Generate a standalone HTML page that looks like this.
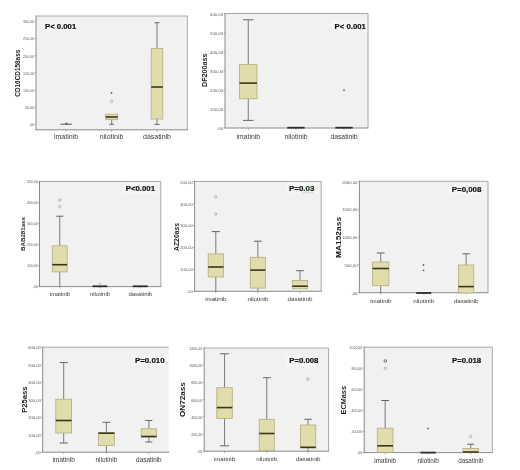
<!DOCTYPE html>
<html><head><meta charset="utf-8"><title>Boxplots</title>
<style>
html,body{margin:0;padding:0;background:#fff;}
body{width:520px;height:470px;overflow:hidden;font-family:"Liberation Sans", sans-serif;}
svg{display:block;filter:blur(0.4px);}
svg text{font-family:"Liberation Sans", sans-serif;}
</style></head>
<body>
<svg width="520" height="470" viewBox="0 0 520 470">
<rect width="520" height="470" fill="#fff"/>
<rect x="36" y="16" width="151.4" height="113.8" fill="#f1f1f1"/>
<line x1="36" y1="16" x2="187.4" y2="16" stroke="#a8a8a8" stroke-width="1"/>
<line x1="187.4" y1="16" x2="187.4" y2="129.8" stroke="#a8a8a8" stroke-width="1"/>
<line x1="36" y1="15.5" x2="36" y2="130.3" stroke="#8a8a8a" stroke-width="1"/>
<line x1="35.5" y1="129.8" x2="187.9" y2="129.8" stroke="#8a8a8a" stroke-width="1"/>
<line x1="34.5" y1="124.5" x2="36" y2="124.5" stroke="#8a8a8a" stroke-width="0.6"/>
<text x="34.1" y="126.4" font-size="3.6" text-anchor="end" fill="#5a5a5a">,00</text>
<line x1="34.5" y1="107.3" x2="36" y2="107.3" stroke="#8a8a8a" stroke-width="0.6"/>
<text x="34.1" y="109.2" font-size="3.6" text-anchor="end" fill="#5a5a5a">50,00</text>
<line x1="34.5" y1="90.1" x2="36" y2="90.1" stroke="#8a8a8a" stroke-width="0.6"/>
<text x="34.1" y="92" font-size="3.6" text-anchor="end" fill="#5a5a5a">100,00</text>
<line x1="34.5" y1="72.9" x2="36" y2="72.9" stroke="#8a8a8a" stroke-width="0.6"/>
<text x="34.1" y="74.8" font-size="3.6" text-anchor="end" fill="#5a5a5a">150,00</text>
<line x1="34.5" y1="55.7" x2="36" y2="55.7" stroke="#8a8a8a" stroke-width="0.6"/>
<text x="34.1" y="57.6" font-size="3.6" text-anchor="end" fill="#5a5a5a">200,00</text>
<line x1="34.5" y1="38.5" x2="36" y2="38.5" stroke="#8a8a8a" stroke-width="0.6"/>
<text x="34.1" y="40.4" font-size="3.6" text-anchor="end" fill="#5a5a5a">250,00</text>
<line x1="34.5" y1="21.3" x2="36" y2="21.3" stroke="#8a8a8a" stroke-width="0.6"/>
<text x="34.1" y="23.2" font-size="3.6" text-anchor="end" fill="#5a5a5a">300,00</text>
<line x1="66" y1="129.8" x2="66" y2="131.8" stroke="#8a8a8a" stroke-width="0.6"/>
<text x="66" y="139" font-size="7" text-anchor="middle" fill="#3a3a3a">imatinib</text>
<line x1="111.5" y1="129.8" x2="111.5" y2="131.8" stroke="#8a8a8a" stroke-width="0.6"/>
<text x="111.5" y="139" font-size="7" text-anchor="middle" fill="#3a3a3a">nilotinib</text>
<line x1="157" y1="129.8" x2="157" y2="131.8" stroke="#8a8a8a" stroke-width="0.6"/>
<text x="157" y="139" font-size="7" text-anchor="middle" fill="#3a3a3a">dasatinib</text>
<text transform="translate(20.45,73.2) rotate(-90)" font-size="6.8" font-weight="bold" text-anchor="middle" textLength="47" lengthAdjust="spacingAndGlyphs" fill="#1e1e1e">CD16CD158ass</text>
<rect x="42" y="20.6" width="37.2" height="11" fill="#f5f5f5"/>
<text x="45" y="29.1" font-size="8.0" font-weight="bold" textLength="31.2" lengthAdjust="spacingAndGlyphs" fill="#111" stroke="#111" stroke-width="0.2">P< 0.001</text>
<rect x="60.5" y="123.7" width="11.3" height="1.0" fill="#555"/>
<line x1="111.7" y1="119.7" x2="111.7" y2="124.3" stroke="#656565" stroke-width="0.85"/>
<line x1="109.3" y1="124.3" x2="114.1" y2="124.3" stroke="#656565" stroke-width="1"/>
<rect x="105.7" y="114.2" width="12" height="5.5" fill="#e0dcab" stroke="#b3ad7c" stroke-width="0.8"/>
<line x1="105.7" y1="117" x2="117.7" y2="117" stroke="#3b351d" stroke-width="1.6"/>
<line x1="157" y1="22.7" x2="157" y2="48.4" stroke="#656565" stroke-width="0.85"/>
<line x1="154.5" y1="22.7" x2="159.5" y2="22.7" stroke="#656565" stroke-width="1"/>
<line x1="157" y1="119" x2="157" y2="124.4" stroke="#656565" stroke-width="0.85"/>
<line x1="154.5" y1="124.4" x2="159.5" y2="124.4" stroke="#656565" stroke-width="1"/>
<rect x="151.2" y="48.4" width="11.6" height="70.6" fill="#e0dcab" stroke="#b3ad7c" stroke-width="0.8"/>
<line x1="151.2" y1="87" x2="162.8" y2="87" stroke="#3b351d" stroke-width="1.6"/>
<circle cx="111.5" cy="93" r="0.9" fill="#666"/>
<circle cx="111.5" cy="101.5" r="1.2" fill="none" stroke="#9a9a9a" stroke-width="0.7"/>
<path d="M65.10000000000001,124.2 L66.4,122.2 L67.7,124.2 Z" fill="#444"/>
<rect x="225" y="13.5" width="143" height="114.5" fill="#f1f1f1"/>
<line x1="225" y1="13.5" x2="368" y2="13.5" stroke="#a8a8a8" stroke-width="1"/>
<line x1="368" y1="13.5" x2="368" y2="128" stroke="#a8a8a8" stroke-width="1"/>
<line x1="225" y1="13.0" x2="225" y2="128.5" stroke="#8a8a8a" stroke-width="1"/>
<line x1="224.5" y1="128" x2="368.5" y2="128" stroke="#8a8a8a" stroke-width="1"/>
<line x1="223.5" y1="128" x2="225" y2="128" stroke="#8a8a8a" stroke-width="0.6"/>
<text x="223.1" y="130.13" font-size="4.25" text-anchor="end" fill="#5a5a5a">,00</text>
<line x1="223.5" y1="108.97" x2="225" y2="108.97" stroke="#8a8a8a" stroke-width="0.6"/>
<text x="223.1" y="111.1" font-size="4.25" text-anchor="end" fill="#5a5a5a">100,00</text>
<line x1="223.5" y1="89.94" x2="225" y2="89.94" stroke="#8a8a8a" stroke-width="0.6"/>
<text x="223.1" y="92.07" font-size="4.25" text-anchor="end" fill="#5a5a5a">200,00</text>
<line x1="223.5" y1="70.91" x2="225" y2="70.91" stroke="#8a8a8a" stroke-width="0.6"/>
<text x="223.1" y="73.04" font-size="4.25" text-anchor="end" fill="#5a5a5a">300,00</text>
<line x1="223.5" y1="51.88" x2="225" y2="51.88" stroke="#8a8a8a" stroke-width="0.6"/>
<text x="223.1" y="54.01" font-size="4.25" text-anchor="end" fill="#5a5a5a">400,00</text>
<line x1="223.5" y1="32.85" x2="225" y2="32.85" stroke="#8a8a8a" stroke-width="0.6"/>
<text x="223.1" y="34.98" font-size="4.25" text-anchor="end" fill="#5a5a5a">500,00</text>
<line x1="223.5" y1="13.82" x2="225" y2="13.82" stroke="#8a8a8a" stroke-width="0.6"/>
<text x="223.1" y="15.95" font-size="4.25" text-anchor="end" fill="#5a5a5a">600,00</text>
<line x1="248.3" y1="128" x2="248.3" y2="130" stroke="#8a8a8a" stroke-width="0.6"/>
<text x="248.3" y="138.5" font-size="6.8" text-anchor="middle" fill="#3a3a3a">imatinib</text>
<line x1="296" y1="128" x2="296" y2="130" stroke="#8a8a8a" stroke-width="0.6"/>
<text x="296" y="138.5" font-size="6.8" text-anchor="middle" fill="#3a3a3a">nilotinib</text>
<line x1="344" y1="128" x2="344" y2="130" stroke="#8a8a8a" stroke-width="0.6"/>
<text x="344" y="138.5" font-size="6.8" text-anchor="middle" fill="#3a3a3a">dasatinib</text>
<text transform="translate(207.1,70.25) rotate(-90)" font-size="6.4" font-weight="bold" text-anchor="middle" textLength="33.5" lengthAdjust="spacingAndGlyphs" fill="#1e1e1e">DF200ass</text>
<rect x="331.6" y="20.6" width="35.4" height="11" fill="#f5f5f5"/>
<text x="334.6" y="29.1" font-size="8.0" font-weight="bold" textLength="31.2" lengthAdjust="spacingAndGlyphs" fill="#111" stroke="#111" stroke-width="0.2">P< 0.001</text>
<line x1="248.25" y1="19.8" x2="248.25" y2="64.4" stroke="#656565" stroke-width="0.85"/>
<line x1="243" y1="19.8" x2="253.5" y2="19.8" stroke="#656565" stroke-width="1"/>
<line x1="248.25" y1="98.8" x2="248.25" y2="120.4" stroke="#656565" stroke-width="0.85"/>
<line x1="243" y1="120.4" x2="253.5" y2="120.4" stroke="#656565" stroke-width="1"/>
<rect x="239.5" y="64.4" width="17.5" height="34.4" fill="#e0dcab" stroke="#b3ad7c" stroke-width="0.8"/>
<line x1="239.5" y1="83.1" x2="257" y2="83.1" stroke="#3b351d" stroke-width="1.6"/>
<rect x="287.3" y="126.8" width="17.3" height="1.8" fill="#2e2e2e"/>
<rect x="335.4" y="126.8" width="17.3" height="1.8" fill="#2e2e2e"/>
<circle cx="344" cy="90.2" r="0.9" fill="#666"/>
<rect x="39.5" y="181.5" width="121.3" height="105.1" fill="#f1f1f1"/>
<line x1="39.5" y1="181.5" x2="160.8" y2="181.5" stroke="#a8a8a8" stroke-width="1"/>
<line x1="160.8" y1="181.5" x2="160.8" y2="286.6" stroke="#a8a8a8" stroke-width="1"/>
<line x1="39.5" y1="181.0" x2="39.5" y2="287.1" stroke="#8a8a8a" stroke-width="1"/>
<line x1="39.0" y1="286.6" x2="161.3" y2="286.6" stroke="#8a8a8a" stroke-width="1"/>
<line x1="38" y1="286.5" x2="39.5" y2="286.5" stroke="#8a8a8a" stroke-width="0.6"/>
<text x="37.6" y="288.36" font-size="3.5" text-anchor="end" fill="#5a5a5a">,00</text>
<line x1="38" y1="265.5" x2="39.5" y2="265.5" stroke="#8a8a8a" stroke-width="0.6"/>
<text x="37.6" y="267.36" font-size="3.5" text-anchor="end" fill="#5a5a5a">100,00</text>
<line x1="38" y1="244.5" x2="39.5" y2="244.5" stroke="#8a8a8a" stroke-width="0.6"/>
<text x="37.6" y="246.36" font-size="3.5" text-anchor="end" fill="#5a5a5a">200,00</text>
<line x1="38" y1="223.5" x2="39.5" y2="223.5" stroke="#8a8a8a" stroke-width="0.6"/>
<text x="37.6" y="225.36" font-size="3.5" text-anchor="end" fill="#5a5a5a">300,00</text>
<line x1="38" y1="202.5" x2="39.5" y2="202.5" stroke="#8a8a8a" stroke-width="0.6"/>
<text x="37.6" y="204.36" font-size="3.5" text-anchor="end" fill="#5a5a5a">400,00</text>
<line x1="38" y1="181.5" x2="39.5" y2="181.5" stroke="#8a8a8a" stroke-width="0.6"/>
<text x="37.6" y="183.36" font-size="3.5" text-anchor="end" fill="#5a5a5a">500,00</text>
<line x1="60" y1="286.6" x2="60" y2="288.6" stroke="#8a8a8a" stroke-width="0.6"/>
<text x="60" y="295.5" font-size="5.9" text-anchor="middle" fill="#3a3a3a">imatinib</text>
<line x1="100" y1="286.6" x2="100" y2="288.6" stroke="#8a8a8a" stroke-width="0.6"/>
<text x="100" y="295.5" font-size="5.9" text-anchor="middle" fill="#3a3a3a">nilotinib</text>
<line x1="140.3" y1="286.6" x2="140.3" y2="288.6" stroke="#8a8a8a" stroke-width="0.6"/>
<text x="140.3" y="295.5" font-size="5.9" text-anchor="middle" fill="#3a3a3a">dasatinib</text>
<text transform="translate(24.84,234) rotate(-90)" font-size="5.1" font-weight="bold" text-anchor="middle" textLength="34" lengthAdjust="spacingAndGlyphs" fill="#1e1e1e">BAB281ass</text>
<rect x="122.7" y="182.8" width="35.3" height="11" fill="#f5f5f5"/>
<text x="125.7" y="191.3" font-size="8.0" font-weight="bold" textLength="29.3" lengthAdjust="spacingAndGlyphs" fill="#111" stroke="#111" stroke-width="0.2">P<0.001</text>
<line x1="59.75" y1="216.2" x2="59.75" y2="245.8" stroke="#656565" stroke-width="0.85"/>
<line x1="56.1" y1="216.2" x2="63.4" y2="216.2" stroke="#656565" stroke-width="1"/>
<line x1="59.75" y1="271.9" x2="59.75" y2="286.5" stroke="#656565" stroke-width="0.85"/>
<rect x="52.3" y="245.8" width="14.9" height="26.1" fill="#e0dcab" stroke="#b3ad7c" stroke-width="0.8"/>
<line x1="52.3" y1="264.7" x2="67.2" y2="264.7" stroke="#3b351d" stroke-width="1.6"/>
<rect x="92.5" y="285.4" width="14.8" height="1.8" fill="#2e2e2e"/>
<rect x="132.8" y="285.4" width="15" height="1.8" fill="#2e2e2e"/>
<circle cx="59.7" cy="200" r="1.2" fill="none" stroke="#9a9a9a" stroke-width="0.7"/>
<circle cx="59.7" cy="206.5" r="1.2" fill="none" stroke="#9a9a9a" stroke-width="0.7"/>
<circle cx="100" cy="283.7" r="0.6" fill="#666"/>
<rect x="194.6" y="181.5" width="126.6" height="109.8" fill="#f1f1f1"/>
<line x1="194.6" y1="181.5" x2="321.2" y2="181.5" stroke="#a8a8a8" stroke-width="1"/>
<line x1="321.2" y1="181.5" x2="321.2" y2="291.3" stroke="#a8a8a8" stroke-width="1"/>
<line x1="194.6" y1="181.0" x2="194.6" y2="291.8" stroke="#8a8a8a" stroke-width="1"/>
<line x1="194.1" y1="291.3" x2="321.7" y2="291.3" stroke="#8a8a8a" stroke-width="1"/>
<line x1="193.1" y1="291.3" x2="194.6" y2="291.3" stroke="#8a8a8a" stroke-width="0.6"/>
<text x="192.7" y="293.36" font-size="4.05" text-anchor="end" fill="#5a5a5a">,00</text>
<line x1="193.1" y1="269.34" x2="194.6" y2="269.34" stroke="#8a8a8a" stroke-width="0.6"/>
<text x="192.7" y="271.4" font-size="4.05" text-anchor="end" fill="#5a5a5a">100,00</text>
<line x1="193.1" y1="247.38" x2="194.6" y2="247.38" stroke="#8a8a8a" stroke-width="0.6"/>
<text x="192.7" y="249.44" font-size="4.05" text-anchor="end" fill="#5a5a5a">200,00</text>
<line x1="193.1" y1="225.42" x2="194.6" y2="225.42" stroke="#8a8a8a" stroke-width="0.6"/>
<text x="192.7" y="227.48" font-size="4.05" text-anchor="end" fill="#5a5a5a">300,00</text>
<line x1="193.1" y1="203.46" x2="194.6" y2="203.46" stroke="#8a8a8a" stroke-width="0.6"/>
<text x="192.7" y="205.52" font-size="4.05" text-anchor="end" fill="#5a5a5a">400,00</text>
<line x1="193.1" y1="181.5" x2="194.6" y2="181.5" stroke="#8a8a8a" stroke-width="0.6"/>
<text x="192.7" y="183.56" font-size="4.05" text-anchor="end" fill="#5a5a5a">500,00</text>
<line x1="215.8" y1="291.3" x2="215.8" y2="293.3" stroke="#8a8a8a" stroke-width="0.6"/>
<text x="215.8" y="300.7" font-size="6.2" text-anchor="middle" fill="#3a3a3a">imatinib</text>
<line x1="257.9" y1="291.3" x2="257.9" y2="293.3" stroke="#8a8a8a" stroke-width="0.6"/>
<text x="257.9" y="300.7" font-size="6.2" text-anchor="middle" fill="#3a3a3a">nilotinib</text>
<line x1="300" y1="291.3" x2="300" y2="293.3" stroke="#8a8a8a" stroke-width="0.6"/>
<text x="300" y="300.7" font-size="6.2" text-anchor="middle" fill="#3a3a3a">dasatinib</text>
<text transform="translate(179.47,237) rotate(-90)" font-size="6.3" font-weight="bold" text-anchor="middle" textLength="27.8" lengthAdjust="spacingAndGlyphs" fill="#1e1e1e">AZ20ass</text>
<rect x="286" y="182.6" width="31.4" height="11" fill="#f5f5f5"/>
<path d="M302,192.7 q1.5,1 3,0 t3,0 t3,0 t3,0" fill="none" stroke="#7fbf85" stroke-width="0.6" opacity="0.7"/>
<text x="289" y="191.1" font-size="8.0" font-weight="bold" textLength="25.4" lengthAdjust="spacingAndGlyphs" fill="#111" stroke="#111" stroke-width="0.2">P=0<tspan fill="#1f3d22">.03</tspan></text>
<line x1="215.8" y1="231.6" x2="215.8" y2="253.9" stroke="#656565" stroke-width="0.85"/>
<line x1="211.7" y1="231.6" x2="219.9" y2="231.6" stroke="#656565" stroke-width="1"/>
<line x1="215.8" y1="277" x2="215.8" y2="291.2" stroke="#656565" stroke-width="0.85"/>
<rect x="208.2" y="253.9" width="15.2" height="23.1" fill="#e0dcab" stroke="#b3ad7c" stroke-width="0.8"/>
<line x1="208.2" y1="267" x2="223.4" y2="267" stroke="#3b351d" stroke-width="1.6"/>
<line x1="257.85" y1="241.2" x2="257.85" y2="257.3" stroke="#656565" stroke-width="0.85"/>
<line x1="254" y1="241.2" x2="261.7" y2="241.2" stroke="#656565" stroke-width="1"/>
<line x1="257.85" y1="288.1" x2="257.85" y2="291.2" stroke="#656565" stroke-width="0.85"/>
<rect x="250.3" y="257.3" width="15.1" height="30.8" fill="#e0dcab" stroke="#b3ad7c" stroke-width="0.8"/>
<line x1="250.3" y1="270.1" x2="265.4" y2="270.1" stroke="#3b351d" stroke-width="1.6"/>
<line x1="300" y1="270.7" x2="300" y2="280.4" stroke="#656565" stroke-width="0.85"/>
<line x1="296.1" y1="270.7" x2="303.9" y2="270.7" stroke="#656565" stroke-width="1"/>
<rect x="292.3" y="280.4" width="15.4" height="8.4" fill="#e0dcab" stroke="#b3ad7c" stroke-width="0.8"/>
<line x1="292.3" y1="286.2" x2="307.7" y2="286.2" stroke="#3b351d" stroke-width="1.6"/>
<circle cx="215.7" cy="196.8" r="1.2" fill="none" stroke="#9a9a9a" stroke-width="0.7"/>
<circle cx="215.7" cy="214.2" r="1.2" fill="none" stroke="#9a9a9a" stroke-width="0.7"/>
<rect x="359.4" y="181.3" width="128.6" height="111.4" fill="#f1f1f1"/>
<line x1="359.4" y1="181.3" x2="488" y2="181.3" stroke="#a8a8a8" stroke-width="1"/>
<line x1="488" y1="181.3" x2="488" y2="292.7" stroke="#a8a8a8" stroke-width="1"/>
<line x1="359.4" y1="180.8" x2="359.4" y2="293.2" stroke="#8a8a8a" stroke-width="1"/>
<line x1="358.9" y1="292.7" x2="488.5" y2="292.7" stroke="#8a8a8a" stroke-width="1"/>
<line x1="357.9" y1="292.7" x2="359.4" y2="292.7" stroke="#8a8a8a" stroke-width="0.6"/>
<text x="357.5" y="294.83" font-size="4.26" text-anchor="end" fill="#5a5a5a">,00</text>
<line x1="357.9" y1="264.9" x2="359.4" y2="264.9" stroke="#8a8a8a" stroke-width="0.6"/>
<text x="357.5" y="267.03" font-size="4.26" text-anchor="end" fill="#5a5a5a">500,00</text>
<line x1="357.9" y1="237.1" x2="359.4" y2="237.1" stroke="#8a8a8a" stroke-width="0.6"/>
<text x="357.5" y="239.23" font-size="4.26" text-anchor="end" fill="#5a5a5a">1000,00</text>
<line x1="357.9" y1="209.3" x2="359.4" y2="209.3" stroke="#8a8a8a" stroke-width="0.6"/>
<text x="357.5" y="211.43" font-size="4.26" text-anchor="end" fill="#5a5a5a">1500,00</text>
<line x1="357.9" y1="181.5" x2="359.4" y2="181.5" stroke="#8a8a8a" stroke-width="0.6"/>
<text x="357.5" y="183.63" font-size="4.26" text-anchor="end" fill="#5a5a5a">2000,00</text>
<line x1="380.8" y1="292.7" x2="380.8" y2="294.7" stroke="#8a8a8a" stroke-width="0.6"/>
<text x="380.8" y="302.9" font-size="6.2" text-anchor="middle" fill="#3a3a3a">imatinib</text>
<line x1="423.7" y1="292.7" x2="423.7" y2="294.7" stroke="#8a8a8a" stroke-width="0.6"/>
<text x="423.7" y="302.9" font-size="6.2" text-anchor="middle" fill="#3a3a3a">nilotinib</text>
<line x1="466.2" y1="292.7" x2="466.2" y2="294.7" stroke="#8a8a8a" stroke-width="0.6"/>
<text x="466.2" y="302.9" font-size="6.2" text-anchor="middle" fill="#3a3a3a">dasatinib</text>
<text transform="translate(340.98,237.5) rotate(-90)" font-size="6.6" font-weight="bold" text-anchor="middle" textLength="41.2" lengthAdjust="spacingAndGlyphs" fill="#1e1e1e">MA152ass</text>
<rect x="448.8" y="183" width="35.6" height="11" fill="#f5f5f5"/>
<text x="451.8" y="191.5" font-size="8.0" font-weight="bold" textLength="29.6" lengthAdjust="spacingAndGlyphs" fill="#111" stroke="#111" stroke-width="0.2">P=0,008</text>
<line x1="380.75" y1="253" x2="380.75" y2="262" stroke="#656565" stroke-width="0.85"/>
<line x1="376.85" y1="253" x2="384.65" y2="253" stroke="#656565" stroke-width="1"/>
<line x1="380.75" y1="285.7" x2="380.75" y2="293" stroke="#656565" stroke-width="0.85"/>
<rect x="372.6" y="262" width="16.3" height="23.7" fill="#e0dcab" stroke="#b3ad7c" stroke-width="0.8"/>
<line x1="372.6" y1="268.5" x2="388.9" y2="268.5" stroke="#3b351d" stroke-width="1.6"/>
<rect x="416.2" y="292.1" width="15" height="1.8" fill="#2e2e2e"/>
<line x1="466.15" y1="253.8" x2="466.15" y2="265" stroke="#656565" stroke-width="0.85"/>
<line x1="462.45" y1="253.8" x2="469.85" y2="253.8" stroke="#656565" stroke-width="1"/>
<rect x="458.5" y="265" width="15.3" height="28" fill="#e0dcab" stroke="#b3ad7c" stroke-width="0.8"/>
<line x1="458.5" y1="286.6" x2="473.8" y2="286.6" stroke="#3b351d" stroke-width="1.6"/>
<circle cx="423.5" cy="265" r="0.9" fill="#666"/>
<circle cx="423.5" cy="270.3" r="0.9" fill="#666"/>
<rect x="42.7" y="347.2" width="126" height="105" fill="#f1f1f1"/>
<line x1="42.7" y1="347.2" x2="168.7" y2="347.2" stroke="#a8a8a8" stroke-width="1"/>
<line x1="42.7" y1="346.7" x2="42.7" y2="452.7" stroke="#8a8a8a" stroke-width="1"/>
<line x1="42.2" y1="452.2" x2="169.2" y2="452.2" stroke="#8a8a8a" stroke-width="1"/>
<line x1="41.2" y1="452.2" x2="42.7" y2="452.2" stroke="#8a8a8a" stroke-width="0.6"/>
<text x="40.8" y="454.29" font-size="4.15" text-anchor="end" fill="#5a5a5a">,00</text>
<line x1="41.2" y1="434.7" x2="42.7" y2="434.7" stroke="#8a8a8a" stroke-width="0.6"/>
<text x="40.8" y="436.79" font-size="4.15" text-anchor="end" fill="#5a5a5a">100,00</text>
<line x1="41.2" y1="417.2" x2="42.7" y2="417.2" stroke="#8a8a8a" stroke-width="0.6"/>
<text x="40.8" y="419.29" font-size="4.15" text-anchor="end" fill="#5a5a5a">200,00</text>
<line x1="41.2" y1="399.7" x2="42.7" y2="399.7" stroke="#8a8a8a" stroke-width="0.6"/>
<text x="40.8" y="401.79" font-size="4.15" text-anchor="end" fill="#5a5a5a">300,00</text>
<line x1="41.2" y1="382.2" x2="42.7" y2="382.2" stroke="#8a8a8a" stroke-width="0.6"/>
<text x="40.8" y="384.29" font-size="4.15" text-anchor="end" fill="#5a5a5a">400,00</text>
<line x1="41.2" y1="364.7" x2="42.7" y2="364.7" stroke="#8a8a8a" stroke-width="0.6"/>
<text x="40.8" y="366.79" font-size="4.15" text-anchor="end" fill="#5a5a5a">500,00</text>
<line x1="41.2" y1="347.2" x2="42.7" y2="347.2" stroke="#8a8a8a" stroke-width="0.6"/>
<text x="40.8" y="349.29" font-size="4.15" text-anchor="end" fill="#5a5a5a">600,00</text>
<line x1="63.7" y1="452.2" x2="63.7" y2="454.2" stroke="#8a8a8a" stroke-width="0.6"/>
<text x="63.7" y="462" font-size="6.4" text-anchor="middle" fill="#3a3a3a">imatinib</text>
<line x1="106.4" y1="452.2" x2="106.4" y2="454.2" stroke="#8a8a8a" stroke-width="0.6"/>
<text x="106.4" y="462" font-size="6.4" text-anchor="middle" fill="#3a3a3a">nilotinib</text>
<line x1="148.9" y1="452.2" x2="148.9" y2="454.2" stroke="#8a8a8a" stroke-width="0.6"/>
<text x="148.9" y="462" font-size="6.4" text-anchor="middle" fill="#3a3a3a">dasatinib</text>
<text transform="translate(26.78,399.65) rotate(-90)" font-size="6.6" font-weight="bold" text-anchor="middle" textLength="26.3" lengthAdjust="spacingAndGlyphs" fill="#1e1e1e">P25ass</text>
<rect x="131.9" y="354.7" width="35.7" height="11" fill="#f5f5f5"/>
<text x="134.9" y="363.2" font-size="8.0" font-weight="bold" textLength="29.7" lengthAdjust="spacingAndGlyphs" fill="#111" stroke="#111" stroke-width="0.2">P=0.010</text>
<line x1="63.7" y1="362.6" x2="63.7" y2="399.2" stroke="#656565" stroke-width="0.85"/>
<line x1="59.6" y1="362.6" x2="67.8" y2="362.6" stroke="#656565" stroke-width="1"/>
<line x1="63.7" y1="433" x2="63.7" y2="443" stroke="#656565" stroke-width="0.85"/>
<line x1="59.6" y1="443" x2="67.8" y2="443" stroke="#656565" stroke-width="1"/>
<rect x="55.8" y="399.2" width="15.8" height="33.8" fill="#e0dcab" stroke="#b3ad7c" stroke-width="0.8"/>
<line x1="55.8" y1="420.5" x2="71.6" y2="420.5" stroke="#3b351d" stroke-width="1.6"/>
<line x1="106.4" y1="422.3" x2="106.4" y2="432.6" stroke="#656565" stroke-width="0.85"/>
<line x1="102.55" y1="422.3" x2="110.25" y2="422.3" stroke="#656565" stroke-width="1"/>
<line x1="106.4" y1="445.4" x2="106.4" y2="452" stroke="#656565" stroke-width="0.85"/>
<rect x="98.5" y="432.6" width="15.8" height="12.8" fill="#e0dcab" stroke="#b3ad7c" stroke-width="0.8"/>
<line x1="98.5" y1="433.2" x2="114.3" y2="433.2" stroke="#3b351d" stroke-width="1.6"/>
<line x1="148.9" y1="420.5" x2="148.9" y2="428.8" stroke="#656565" stroke-width="0.85"/>
<line x1="145.45" y1="420.5" x2="152.35" y2="420.5" stroke="#656565" stroke-width="1"/>
<line x1="148.9" y1="437" x2="148.9" y2="442" stroke="#656565" stroke-width="0.85"/>
<line x1="145.45" y1="442" x2="152.35" y2="442" stroke="#656565" stroke-width="1"/>
<rect x="141.2" y="428.8" width="15.4" height="8.2" fill="#e0dcab" stroke="#b3ad7c" stroke-width="0.8"/>
<line x1="141.2" y1="436.5" x2="156.6" y2="436.5" stroke="#3b351d" stroke-width="1.6"/>
<rect x="204.2" y="348" width="124.4" height="103.2" fill="#f1f1f1"/>
<line x1="204.2" y1="348" x2="328.6" y2="348" stroke="#a8a8a8" stroke-width="1"/>
<line x1="328.6" y1="348" x2="328.6" y2="451.2" stroke="#a8a8a8" stroke-width="1"/>
<line x1="204.2" y1="347.5" x2="204.2" y2="451.7" stroke="#8a8a8a" stroke-width="1"/>
<line x1="203.7" y1="451.2" x2="329.1" y2="451.2" stroke="#8a8a8a" stroke-width="1"/>
<line x1="202.7" y1="451.2" x2="204.2" y2="451.2" stroke="#8a8a8a" stroke-width="0.6"/>
<text x="202.3" y="453.11" font-size="3.65" text-anchor="end" fill="#5a5a5a">,00</text>
<line x1="202.7" y1="434" x2="204.2" y2="434" stroke="#8a8a8a" stroke-width="0.6"/>
<text x="202.3" y="435.91" font-size="3.65" text-anchor="end" fill="#5a5a5a">200,00</text>
<line x1="202.7" y1="416.8" x2="204.2" y2="416.8" stroke="#8a8a8a" stroke-width="0.6"/>
<text x="202.3" y="418.71" font-size="3.65" text-anchor="end" fill="#5a5a5a">400,00</text>
<line x1="202.7" y1="399.6" x2="204.2" y2="399.6" stroke="#8a8a8a" stroke-width="0.6"/>
<text x="202.3" y="401.51" font-size="3.65" text-anchor="end" fill="#5a5a5a">600,00</text>
<line x1="202.7" y1="382.4" x2="204.2" y2="382.4" stroke="#8a8a8a" stroke-width="0.6"/>
<text x="202.3" y="384.31" font-size="3.65" text-anchor="end" fill="#5a5a5a">800,00</text>
<line x1="202.7" y1="365.2" x2="204.2" y2="365.2" stroke="#8a8a8a" stroke-width="0.6"/>
<text x="202.3" y="367.11" font-size="3.65" text-anchor="end" fill="#5a5a5a">1000,00</text>
<line x1="202.7" y1="348" x2="204.2" y2="348" stroke="#8a8a8a" stroke-width="0.6"/>
<text x="202.3" y="349.91" font-size="3.65" text-anchor="end" fill="#5a5a5a">1200,00</text>
<line x1="224.5" y1="451.2" x2="224.5" y2="453.2" stroke="#8a8a8a" stroke-width="0.6"/>
<text x="224.5" y="461.3" font-size="6.2" text-anchor="middle" fill="#3a3a3a">imatinib</text>
<line x1="266.7" y1="451.2" x2="266.7" y2="453.2" stroke="#8a8a8a" stroke-width="0.6"/>
<text x="266.7" y="461.3" font-size="6.2" text-anchor="middle" fill="#3a3a3a">nilotinib</text>
<line x1="308.1" y1="451.2" x2="308.1" y2="453.2" stroke="#8a8a8a" stroke-width="0.6"/>
<text x="308.1" y="461.3" font-size="6.2" text-anchor="middle" fill="#3a3a3a">dasatinib</text>
<text transform="translate(185.28,399.65) rotate(-90)" font-size="6.6" font-weight="bold" text-anchor="middle" textLength="34.9" lengthAdjust="spacingAndGlyphs" fill="#1e1e1e">ON72ass</text>
<rect x="286.2" y="354.7" width="35.2" height="11" fill="#f5f5f5"/>
<text x="289.2" y="363.2" font-size="8.0" font-weight="bold" textLength="29.2" lengthAdjust="spacingAndGlyphs" fill="#111" stroke="#111" stroke-width="0.2">P=0.008</text>
<line x1="224.55" y1="353.8" x2="224.55" y2="387.7" stroke="#656565" stroke-width="0.85"/>
<line x1="220.15" y1="353.8" x2="228.95" y2="353.8" stroke="#656565" stroke-width="1"/>
<line x1="224.55" y1="418.4" x2="224.55" y2="445.8" stroke="#656565" stroke-width="0.85"/>
<line x1="220.15" y1="445.8" x2="228.95" y2="445.8" stroke="#656565" stroke-width="1"/>
<rect x="216.8" y="387.7" width="15.5" height="30.7" fill="#e0dcab" stroke="#b3ad7c" stroke-width="0.8"/>
<line x1="216.8" y1="407.6" x2="232.3" y2="407.6" stroke="#3b351d" stroke-width="1.6"/>
<line x1="266.75" y1="377.7" x2="266.75" y2="419.3" stroke="#656565" stroke-width="0.85"/>
<line x1="262.9" y1="377.7" x2="270.6" y2="377.7" stroke="#656565" stroke-width="1"/>
<rect x="259.2" y="419.3" width="15.1" height="31.4" fill="#e0dcab" stroke="#b3ad7c" stroke-width="0.8"/>
<line x1="259.2" y1="433.5" x2="274.3" y2="433.5" stroke="#3b351d" stroke-width="1.6"/>
<line x1="308.1" y1="419.3" x2="308.1" y2="425" stroke="#656565" stroke-width="0.85"/>
<line x1="304.4" y1="419.3" x2="311.8" y2="419.3" stroke="#656565" stroke-width="1"/>
<line x1="308.1" y1="448" x2="308.1" y2="451" stroke="#656565" stroke-width="0.85"/>
<rect x="300.4" y="425" width="15.4" height="23" fill="#e0dcab" stroke="#b3ad7c" stroke-width="0.8"/>
<line x1="300.4" y1="447.3" x2="315.8" y2="447.3" stroke="#3b351d" stroke-width="1.6"/>
<circle cx="307.8" cy="379.2" r="1.2" fill="none" stroke="#9a9a9a" stroke-width="0.7"/>
<rect x="364.2" y="347.2" width="128.1" height="105.4" fill="#f1f1f1"/>
<line x1="364.2" y1="347.2" x2="492.3" y2="347.2" stroke="#a8a8a8" stroke-width="1"/>
<line x1="492.3" y1="347.2" x2="492.3" y2="452.6" stroke="#a8a8a8" stroke-width="1"/>
<line x1="364.2" y1="346.7" x2="364.2" y2="453.1" stroke="#8a8a8a" stroke-width="1"/>
<line x1="363.7" y1="452.6" x2="492.8" y2="452.6" stroke="#8a8a8a" stroke-width="1"/>
<line x1="362.7" y1="452.6" x2="364.2" y2="452.6" stroke="#8a8a8a" stroke-width="0.6"/>
<text x="362.3" y="454.47" font-size="3.54" text-anchor="end" fill="#5a5a5a">,00</text>
<line x1="362.7" y1="431.5" x2="364.2" y2="431.5" stroke="#8a8a8a" stroke-width="0.6"/>
<text x="362.3" y="433.37" font-size="3.54" text-anchor="end" fill="#5a5a5a">200,00</text>
<line x1="362.7" y1="410.4" x2="364.2" y2="410.4" stroke="#8a8a8a" stroke-width="0.6"/>
<text x="362.3" y="412.27" font-size="3.54" text-anchor="end" fill="#5a5a5a">400,00</text>
<line x1="362.7" y1="389.3" x2="364.2" y2="389.3" stroke="#8a8a8a" stroke-width="0.6"/>
<text x="362.3" y="391.17" font-size="3.54" text-anchor="end" fill="#5a5a5a">600,00</text>
<line x1="362.7" y1="368.2" x2="364.2" y2="368.2" stroke="#8a8a8a" stroke-width="0.6"/>
<text x="362.3" y="370.07" font-size="3.54" text-anchor="end" fill="#5a5a5a">800,00</text>
<line x1="362.7" y1="347.1" x2="364.2" y2="347.1" stroke="#8a8a8a" stroke-width="0.6"/>
<text x="362.3" y="348.97" font-size="3.54" text-anchor="end" fill="#5a5a5a">1000,00</text>
<line x1="385.2" y1="452.6" x2="385.2" y2="454.6" stroke="#8a8a8a" stroke-width="0.6"/>
<text x="385.2" y="463" font-size="6.3" text-anchor="middle" fill="#3a3a3a">imatinib</text>
<line x1="428.1" y1="452.6" x2="428.1" y2="454.6" stroke="#8a8a8a" stroke-width="0.6"/>
<text x="428.1" y="463" font-size="6.3" text-anchor="middle" fill="#3a3a3a">nilotinib</text>
<line x1="470.8" y1="452.6" x2="470.8" y2="454.6" stroke="#8a8a8a" stroke-width="0.6"/>
<text x="470.8" y="463" font-size="6.3" text-anchor="middle" fill="#3a3a3a">dasatinib</text>
<text transform="translate(345.61,400.25) rotate(-90)" font-size="6.7" font-weight="bold" text-anchor="middle" textLength="28.5" lengthAdjust="spacingAndGlyphs" fill="#1e1e1e">ECMass</text>
<rect x="449" y="354.7" width="35.2" height="11" fill="#f5f5f5"/>
<text x="452" y="363.2" font-size="8.0" font-weight="bold" textLength="29.2" lengthAdjust="spacingAndGlyphs" fill="#111" stroke="#111" stroke-width="0.2">P=0.018</text>
<line x1="385.15" y1="400.5" x2="385.15" y2="428.2" stroke="#656565" stroke-width="0.85"/>
<line x1="381.25" y1="400.5" x2="389.05" y2="400.5" stroke="#656565" stroke-width="1"/>
<rect x="377.3" y="428.2" width="15.7" height="24.1" fill="#e0dcab" stroke="#b3ad7c" stroke-width="0.8"/>
<line x1="377.3" y1="445.8" x2="393" y2="445.8" stroke="#3b351d" stroke-width="1.6"/>
<rect x="420.4" y="451.7" width="15.4" height="1.8" fill="#2e2e2e"/>
<line x1="470.75" y1="444.2" x2="470.75" y2="448.5" stroke="#656565" stroke-width="0.85"/>
<line x1="467.3" y1="444.2" x2="474.2" y2="444.2" stroke="#656565" stroke-width="1"/>
<rect x="463" y="448.5" width="15.5" height="4" fill="#e0dcab" stroke="#b3ad7c" stroke-width="0.8"/>
<line x1="463" y1="452" x2="478.5" y2="452" stroke="#3b351d" stroke-width="1.6"/>
<circle cx="385.3" cy="361" r="1.3" fill="none" stroke="#666" stroke-width="0.9"/>
<circle cx="385.3" cy="368.5" r="1.2" fill="none" stroke="#9a9a9a" stroke-width="0.7"/>
<circle cx="428.1" cy="428.5" r="0.9" fill="#666"/>
<circle cx="470.7" cy="436.6" r="1.2" fill="none" stroke="#9a9a9a" stroke-width="0.7"/>
</svg>
</body></html>
